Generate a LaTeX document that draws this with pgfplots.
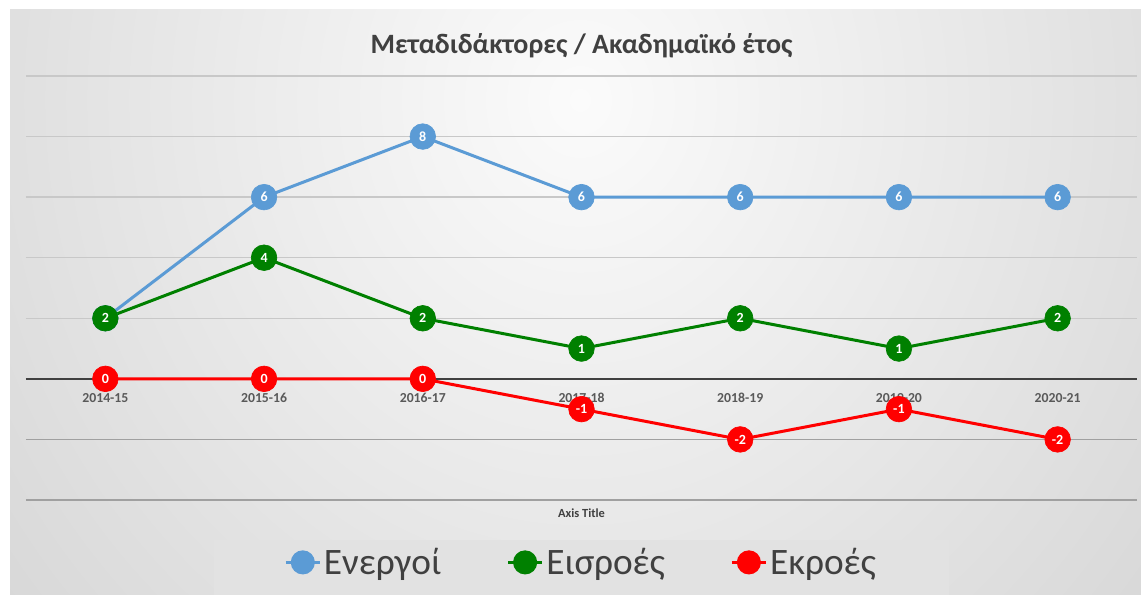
\documentclass[border=0pt]{standalone}
\usepackage{fontspec}
\setmainfont{Carlito}
\usepackage{pgfplots}
\pgfplotsset{compat=1.18}
\definecolor{actblue}{HTML}{5B9BD5}
\definecolor{ingreen}{HTML}{008000}
\definecolor{outred}{HTML}{FF0000}
\definecolor{titlegray}{HTML}{404040}
\definecolor{ticktext}{HTML}{595959}
\definecolor{gridlt}{HTML}{C8C8C8}
\definecolor{griddk}{HTML}{A0A0A0}
\definecolor{axisdark}{HTML}{404040}
\definecolor{bginner}{HTML}{FBFBFB}
\definecolor{bgouter}{HTML}{BEBEBE}
\definecolor{legfill}{HTML}{E2E2E2}
\begin{document}
\begin{tikzpicture}
% chart area background, 1px = 0.75pt
\begin{scope}
\clip (7.5pt,0) rectangle (855.75pt,438.75pt);
\shade[inner color=bginner, outer color=bgouter] (-525pt,-678.75pt) rectangle (1395pt,1421.25pt);
\end{scope}
% legend box, runs off the bottom edge
\fill[legfill] (160.5pt,-5pt) rectangle (711.75pt,41.25pt);
\begin{axis}[at={(19.5pt,71.25pt)}, anchor=south west, scale only axis,
  width=833.25pt, height=318pt,
  xmin=-0.5, xmax=6.5, ymin=-4, ymax=10, enlargelimits=false,
  axis x line=middle, axis y line=left,
  x axis line style={-, draw=axisdark, line width=1.5pt},
  y axis line style={draw=none},
  xtick={0,...,6},
  xticklabels={2014-15,2015-16,2016-17,2017-18,2018-19,2019-20,2020-21},
  xtick style={draw=none}, ytick style={draw=none},
  xticklabel style={font=\bfseries\fontsize{10.3}{12}\selectfont, text=ticktext, yshift=-5pt},
  ytick={2,4,6,8,10}, yticklabels={},
  extra y ticks={-4,-2}, extra y tick labels={},
  ymajorgrids, grid style={draw=gridlt, line width=1.1pt},
  extra y tick style={grid style={draw=griddk, line width=1.1pt}},
  /pgf/number format/assume math mode=true,
  title={Μεταδιδάκτορες / Ακαδημαϊκό έτος},
  title style={at={(0.5,1)}, anchor=center, yshift=17pt, font=\bfseries\fontsize{21}{25}\selectfont, text=titlegray},
  xlabel={Axis Title},
  xlabel style={at={(axis description cs:0.5,-0.031)}, anchor=center, font=\bfseries\fontsize{9.3}{11}\selectfont, text=titlegray},
  nodes near coords,
  every node near coord/.append style={anchor=center, font=\bfseries\fontsize{10.5}{12}\selectfont, text=white},
  legend columns=3,
  legend style={at={(0.5,-0.0943)}, anchor=north, fill=none, draw=none,
    inner xsep=0pt, inner ysep=4pt, font=\fontsize{28}{33}\selectfont, text=titlegray,
    /tikz/every even column/.append style={column sep=47pt}},
  legend image code/.code={\draw[#1, mark=none] (-12.75pt,0) -- (12.75pt,0); \fill[#1] (0,0) circle (7.9pt);},
]
\addplot[actblue, line width=2.25pt, mark=*, mark size=9.6pt, mark options={fill=actblue, draw=actblue, line width=0.5pt}]
  coordinates {(0,2) (1,6) (2,8) (3,6) (4,6) (5,6) (6,6)};
\addplot[ingreen, line width=2.25pt, mark=*, mark size=9.6pt, mark options={fill=ingreen, draw=ingreen, line width=0.5pt}]
  coordinates {(0,2) (1,4) (2,2) (3,1) (4,2) (5,1) (6,2)};
\addplot[outred, line width=2.25pt, mark=*, mark size=9.6pt, mark options={fill=outred, draw=outred, line width=0.5pt}]
  coordinates {(0,0) (1,0) (2,0) (3,-1) (4,-2) (5,-1) (6,-2)};
\legend{Ενεργοί, Εισροές, Εκροές}
\end{axis}
\pgfresetboundingbox
\useasboundingbox (0,0) rectangle (855.75pt,446.25pt);
\end{tikzpicture}
\end{document}
